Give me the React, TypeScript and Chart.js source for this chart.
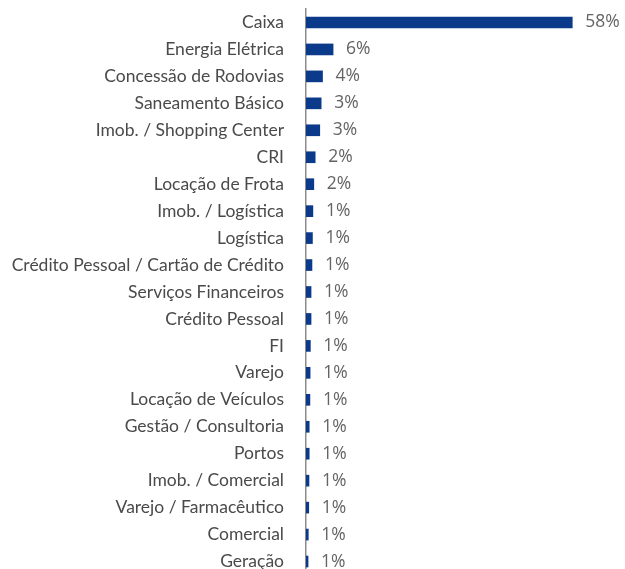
import React, { useEffect, useRef } from "react";
import { Chart, registerables } from "chart.js";

Chart.register(...registerables);

const categories = [
  "Caixa",
  "Energia Elétrica",
  "Concessão de Rodovias",
  "Saneamento Básico",
  "Imob. / Shopping Center",
  "CRI",
  "Locação de Frota",
  "Imob. / Logística",
  "Logística",
  "Crédito Pessoal / Cartão de Crédito",
  "Serviços Financeiros",
  "Crédito Pessoal",
  "FI",
  "Varejo",
  "Locação de Veículos",
  "Gestão / Consultoria",
  "Portos",
  "Imob. / Comercial",
  "Varejo / Farmacêutico",
  "Comercial",
  "Geração",
];

const values = [
  58.0, 5.9, 3.6, 3.3, 3.0, 2.0, 1.7, 1.5, 1.4, 1.3, 1.1, 1.1, 0.95, 0.9, 0.85,
  0.7, 0.7, 0.65, 0.6, 0.5, 0.45,
];

const valueLabels = [
  "58%", "6%", "4%", "3%", "3%", "2%", "2%", "1%", "1%", "1%", "1%", "1%", "1%",
  "1%", "1%", "1%", "1%", "1%", "1%", "1%", "1%",
];

const valueLabelPlugin = {
  id: "valueLabels",
  afterDatasetsDraw(chart: any) {
    const ctx = chart.ctx;
    const meta = chart.getDatasetMeta(0);
    ctx.save();
    ctx.font = "17.5px 'Open Sans', sans-serif";
    ctx.fillStyle = "#646464";
    ctx.textAlign = "left";
    ctx.textBaseline = "middle";
    meta.data.forEach((bar: any, i: number) => {
      ctx.fillText(valueLabels[i], bar.x + 13, bar.y);
    });
    ctx.restore();
  },
};

export default function App() {
  const ref = useRef<HTMLCanvasElement | null>(null);

  useEffect(() => {
    document.body.style.margin = "0";
    const canvas = ref.current;
    if (!canvas) return;
    const chart = new Chart(canvas, {
      type: "bar",
      data: {
        labels: categories,
        datasets: [
          {
            data: values,
            backgroundColor: "#0b3a8a",
            barThickness: 11,
          },
        ],
      },
      options: {
        indexAxis: "y",
        animation: false,
        responsive: false,
        devicePixelRatio: 1,
        layout: { padding: { top: 9, right: 16, left: 0, bottom: 0 } },
        plugins: {
          legend: { display: false },
          tooltip: { enabled: false },
        },
        scales: {
          x: {
            display: false,
            min: 0,
            max: 66,
          },
          y: {
            grid: { display: false, drawTicks: false },
            border: { display: true, color: "#8c8c8c", width: 1.5 },
            ticks: {
              padding: 22,
              color: "#4a4a4a",
              font: { family: "Lato, 'Open Sans', sans-serif", size: 17.5 },
            },
            afterFit(scale: any) {
              scale.width = 306;
              scale.paddingTop = 0;
              scale.paddingBottom = 0;
            },
          },
        },
      },
      plugins: [valueLabelPlugin],
    });
    return () => chart.destroy();
  }, []);

  return (
    <div style={{ width: 625, height: 569, overflow: "hidden", position: "relative" }}>
      <canvas ref={ref} width={625} height={575} style={{ display: "block", width: 625, height: 575 }} />
    </div>
  );
}
